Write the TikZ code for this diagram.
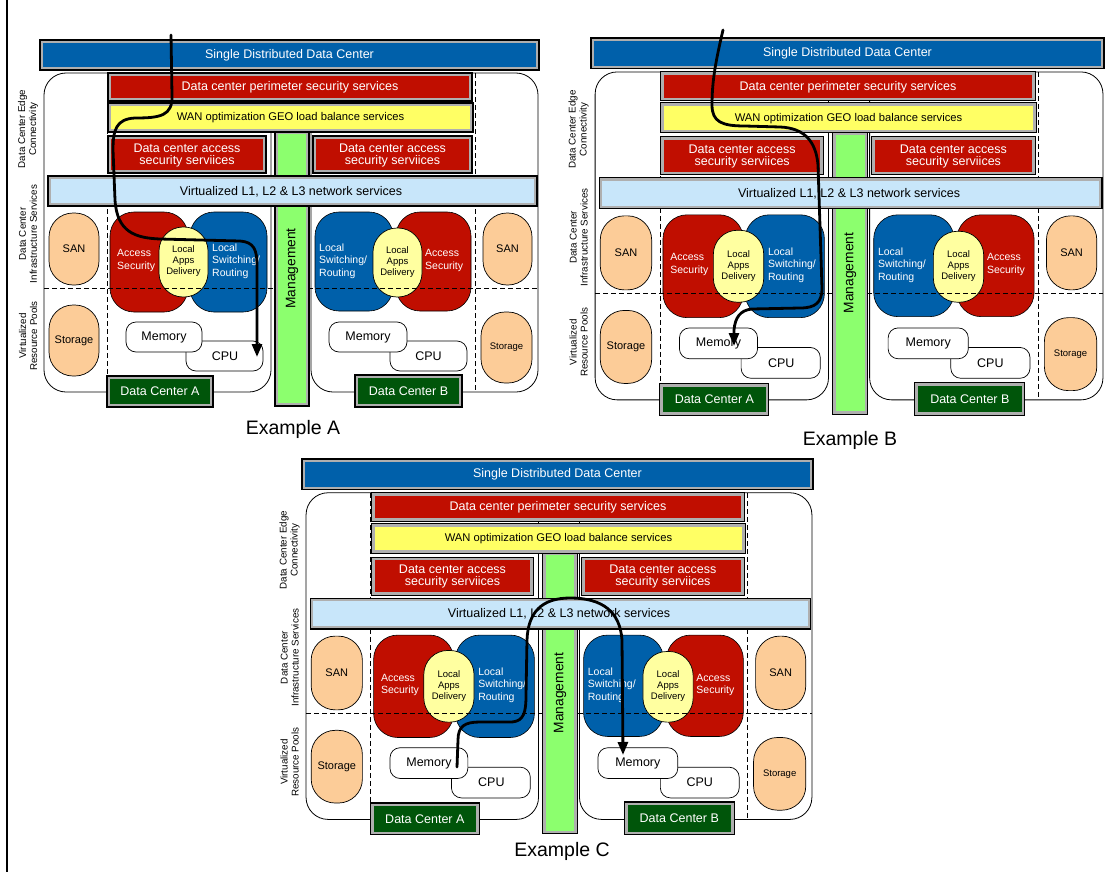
\documentclass[tikz,border=0pt]{standalone}
\usepackage{fontspec}
\setmainfont{Liberation Sans}
\usetikzlibrary{arrows.meta}
\definecolor{dcblue}{RGB}{0,96,170}
\definecolor{dcred}{RGB}{192,14,0}
\definecolor{wanyel}{RGB}{255,255,100}
\definecolor{virtblue}{RGB}{200,230,250}
\definecolor{mgreen}{RGB}{140,255,110}
\definecolor{dcgreen}{RGB}{0,85,10}
\definecolor{frgray}{RGB}{175,175,175}
\definecolor{sanor}{RGB}{252,204,152}
\definecolor{appyel}{RGB}{255,255,160}
\tikzset{
  cont/.style={draw=black, line width=0.8pt, fill=white, rounded corners=22pt},
  dsh/.style={draw=black, line width=0.8pt, dash pattern=on 5pt off 3pt},
  fbar/.style={fill=frgray, draw=black, line width=1.1pt,
    path picture={\fill[#1] ([shift={(3pt,-3pt)}]path picture bounding box.north west) rectangle ([shift={(-3pt,3pt)}]path picture bounding box.south east);}},
  blob/.style={fill=#1, draw=black, line width=0.6pt, rounded corners=24pt},
  pill/.style={fill=#1, draw=black, line width=0.7pt, rounded corners=24pt},
  rbox/.style={fill=white, draw=black, line width=0.7pt, rounded corners=10pt},
  wt/.style={inner sep=0pt, text=white},
  bt/.style={inner sep=0pt, text=black},
  big/.style={font=\fontsize{12.5}{12}\selectfont},
  wan/.style={font=\fontsize{11.2}{13}\selectfont},
  blobt/.style={font=\fontsize{10.5}{12.5}\selectfont, align=left, anchor=west},
  appt/.style={font=\fontsize{9.5}{11}\selectfont, align=center},
  sant/.style={font=\fontsize{11}{13}\selectfont},
  smallt/.style={font=\fontsize{9.5}{11}\selectfont},
  side/.style={font=\fontsize{9.8}{11}\selectfont, align=center, inner sep=0pt, rotate=90},
  mgt/.style={font=\fontsize{13.8}{15}\selectfont, rotate=90},
  exl/.style={font=\fontsize{19.5}{22}\selectfont, inner sep=0pt},
  flow/.style={draw=black, line width=2.8pt, line cap=round, line join=round, -{Triangle[length=13pt,width=10pt]}},
  dcex/.pic={
    \draw[cont] (44,73) rectangle (271,392);
    \draw[cont] (311,73) rectangle (538,392);
    % left data center
    \draw[blob=dcred] (110,212) rectangle (188,312);
    \draw[blob=dcblue] (190,212) rectangle (267,312);
    \draw[pill=appyel] (159,227) rectangle (208,297);
    \draw[pill=sanor] (49,213) rectangle (99,285);
    \draw[pill=sanor] (49,305) rectangle (99,376);
    \draw[rbox] (186,341) rectangle (263,371);
    \draw[rbox] (126,322) rectangle (202,352);
    % right data center
    \draw[blob=dcblue] (315,212) rectangle (393,311);
    \draw[blob=dcred] (396,212) rectangle (471,311);
    \draw[pill=appyel] (373,228) rectangle (422,297);
    \draw[pill=sanor] (483,213) rectangle (532,285);
    \draw[pill=sanor] (481,312) rectangle (532,383);
    \draw[rbox] (390,341) rectangle (467,371);
    \draw[rbox] (329,322) rectangle (407,352);
    % dashed separators
    \draw[dsh] (107,73) -- (107,392);
    \draw[dsh] (475,73) -- (475,392);
    \draw[dsh] (44,288) -- (538,288);
    % bars
    \path[fbar=mgreen] (275,131) rectangle (309,406);
    \path[fbar=dcblue] (40,40) rectangle (539,70);
    \path[fbar=dcred] (108,73) rectangle (472,101);
    \path[fbar=wanyel] (108,103) rectangle (473,132);
    \path[fbar=dcred] (108,136) rectangle (266,173);
    \path[fbar=dcred] (313,136) rectangle (472,173);
    \path[fbar=virtblue] (48,176) rectangle (537,206);
    \path[fbar=dcgreen] (107,376) rectangle (213,407);
    \path[fbar=dcgreen] (355,375) rectangle (462,407);
    % texts
    \node[wt, big] (-single) at (289.5,55) {Single Distributed Data Center};
    \node[wt, big] (-perim) at (290,87.5) {Data center perimeter security services};
    \node[bt, wan] (-wan) at (290.5,118) {WAN optimization GEO load balance services};
    \node[wt, big, align=center] (-accl) at (187,155) {Data center access\\security serviices};
    \node[wt, big, align=center] (-accr) at (392.5,155) {Data center access\\security serviices};
    \node[bt, big] (-virt) at (291,191.5) {Virtualized L1, L2 \& L3 network services};
    \node[bt, mgt] (-mgmt) at (292,268.5) {Management};
    \node[wt, blobt] (-asl) at (117,260.5) {Access\\Security};
    \node[wt, blobt] (-lsl) at (212,261) {Local\\Switching/\\Routing};
    \node[bt, appt] (-adl) at (183.5,261.5) {Local\\Apps\\Delivery};
    \node[bt, sant] (-sanl) at (74,249) {SAN};
    \node[bt, sant] (-stl) at (74,340.5) {Storage};
    \node[bt, big] (-meml) at (164,337) {Memory};
    \node[bt, big] (-cpul) at (225,356) {CPU};
    \node[wt, big] (-dca) at (160,391.5) {Data Center A};
    \node[wt, blobt] (-lsr) at (319,261) {Local\\Switching/\\Routing};
    \node[wt, blobt] (-asr) at (425,260.5) {Access\\Security};
    \node[bt, appt] (-adr) at (397.5,262) {Local\\Apps\\Delivery};
    \node[bt, sant] (-sanr) at (507.5,249) {SAN};
    \node[bt, smallt] (-str) at (506.5,347.5) {Storage};
    \node[bt, big] (-memr) at (368,337) {Memory};
    \node[bt, big] (-cpur) at (428.5,356) {CPU};
    \node[wt, big] (-dcb) at (408.5,391) {Data Center B};
    \node[side] (-edge) at (28,129) {Data Center Edge\\Connectivity};
    \node[side] (-infra) at (28,234) {Data Center\\Infrastructure Services};
    \node[side] (-pools) at (28,336) {Virtualized\\Resource Pools};
  }
}
\begin{document}
\begin{tikzpicture}[x=1pt, y=-1pt]
\useasboundingbox (0,0) rectangle (1115,872);
\fill[white] (0,0) rectangle (1115,872);
\draw[line width=1.1pt] (7,0) -- (7,872);

\pic (A) at (0,0) {dcex};
\pic[shift={(549.9,-3.1)}, scale=1.028] (B) at (0,0) {dcex};
\pic[shift={(261,418)}, scale=1.024] (C) at (0,0) {dcex};

\node[exl] (exA) at (293,429) {Example A};
\node[exl] (exB) at (850,440) {Example B};
\node[exl] (exC) at (562,851) {Example C};

% flow in example A
\coordinate (fa0) at (171,35);
\coordinate (fa1) at (257,357);
\draw[flow] (fa0) -- (172,95) .. controls (173,116) and (160,118) .. (135,118)
  .. controls (116,119) and (113,130) .. (113,150) -- (115,200)
  .. controls (117,232) and (135,238) .. (160,239) -- (240,241)
  .. controls (254,242) and (257,250) .. (257,265) -- (fa1);

% flow in example B
\coordinate (fb0) at (723,30);
\coordinate (fb1) at (734,346);
\draw[flow] (fb0) .. controls (716,60) and (712,80) .. (712,105)
  .. controls (712,122) and (722,126) .. (745,126) -- (780,127)
  .. controls (805,128) and (816,142) .. (818,165) -- (822,288)
  .. controls (822,303) and (815,308) .. (800,308) -- (752,309)
  .. controls (740,310) and (735,318) .. (734,330) -- (fb1);

% flow in example C
\coordinate (fc0) at (457,767);
\coordinate (fc1) at (623,755);
\draw[flow] (fc0) -- (458,740) .. controls (458,726) and (465,722) .. (480,722) -- (512,722)
  .. controls (524,721) and (526,712) .. (526,695) -- (527,640)
  .. controls (528,612) and (542,598) .. (570,598)
  .. controls (603,598) and (620,612) .. (622,640) -- (fc1);
\end{tikzpicture}
\end{document}
